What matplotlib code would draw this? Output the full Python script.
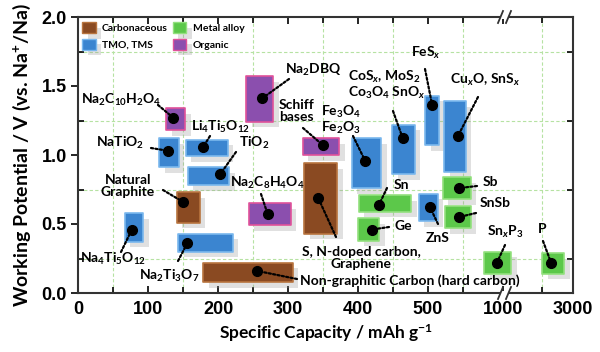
import numpy as np
import matplotlib
matplotlib.use("Agg")
import matplotlib.pyplot as plt
from matplotlib.patches import Patch, Rectangle
import matplotlib.patheffects as pe

plt.rcParams['font.family'] = ['Lato', 'DejaVu Sans']
plt.rcParams['font.weight'] = 'bold'
plt.rcParams['mathtext.fontset'] = 'custom'
plt.rcParams['mathtext.rm'] = 'Lato:bold'
plt.rcParams['mathtext.it'] = 'Lato:bold:italic'
plt.rcParams['mathtext.bf'] = 'Lato:bold'

# ---------------- data ----------------
# Carbonaceous
c_names = ['Natural\nGraphite', 'S, N-doped carbon,\nGraphene', 'Non-graphitic Carbon (hard carbon)']
c_cap_lo = [141, 323, 179]
c_cap_hi = [174, 370, 307]
c_v_lo = [0.51, 0.43, 0.08]
c_v_hi = [0.73, 0.94, 0.22]
c_cap = [150, 343, 256]
c_v = [0.66, 0.69, 0.16]

# TMO, TMS
t_names = [r'Na$_4$Ti$_5$O$_{12}$', r'NaTiO$_2$', r'Li$_4$Ti$_5$O$_{12}$', r'TiO$_2$',
           r'Na$_2$Ti$_3$O$_7$', 'Fe$_3$O$_4$\nFe$_2$O$_3$',
           'CoS$_x$, MoS$_2$\nCo$_3$O$_4$ SnO$_x$', r'FeS$_x$', r'Cu$_x$O, SnS$_x$', 'ZnS']
t_cap_lo = [67, 116, 154, 157, 143, 391, 449, 496, 523, 487]
t_cap_hi = [93, 144, 214, 216, 221, 433, 481, 516, 554, 514]
t_v_lo = [0.37, 0.91, 0.99, 0.78, 0.30, 0.76, 0.86, 1.07, 0.88, 0.52]
t_v_hi = [0.58, 1.12, 1.11, 0.91, 0.43, 1.12, 1.22, 1.43, 1.39, 0.72]
t_cap = [77, 129, 179, 203, 156, 410, 464, 506, 543, 503]
t_v = [0.46, 1.03, 1.06, 0.86, 0.36, 0.96, 1.12, 1.36, 1.14, 0.62]

# Organic
o_names = [r'Na$_2$C$_{10}$H$_2$O$_4$', r'Na$_2$DBQ', 'Schiff\nbases', r'Na$_2$C$_8$H$_4$O$_4$']
o_cap_lo = [126, 240, 321, 244]
o_cap_hi = [153, 279, 373, 304]
o_v_lo = [1.18, 1.24, 1.00, 0.49]
o_v_hi = [1.34, 1.57, 1.12, 0.65]
o_cap = [136, 263, 350, 271]
o_v = [1.27, 1.41, 1.07, 0.57]

# Metal alloy
a_names = ['Sn', 'Ge', 'Sb', 'SnSb', r'Sn$_x$P$_3$', 'P']
a_cap_lo = [401, 400, 521, 524, 580, 2000]
a_cap_hi = [476, 430, 561, 561, 1205, 2710]
a_v_lo = [0.59, 0.38, 0.68, 0.47, 0.14, 0.14]
a_v_hi = [0.71, 0.54, 0.84, 0.63, 0.30, 0.29]
a_cap = [430, 420, 544, 544, 867, 2290]
a_v = [0.64, 0.46, 0.76, 0.55, 0.22, 0.22]

x_major = [0, 100, 200, 300, 400, 500, 1000, 3000]
x_major_labels = ['0', '100', '200', '300', '400', '500', '1000', '3000']
x_minor = [50, 150, 250, 350, 450, 550, 2000]
y_major = [0.0, 0.5, 1.0, 1.5, 2.0]
y_major_labels = ['0.0', '0.5', '1.0', '1.5', '2.0']
y_minor = [0.25, 0.75, 1.25, 1.75]

# ---------------- broken x scale ----------------
cap_knots = np.array([0, 580, 1000, 2000, 3000], dtype=float)
pos_knots = np.array([0, 580, 607.1, 662.9, 707.1])

def fwd(x):
    return np.interp(x, cap_knots, pos_knots)

def inv(p):
    return np.interp(p, pos_knots, cap_knots)

fig = plt.figure(figsize=(6, 3.52), dpi=100)
AX_L, AX_R, AX_T, AX_B = 78, 573, 17, 293
ax = fig.add_axes([AX_L / 600, 1 - AX_B / 352, (AX_R - AX_L) / 600, (AX_B - AX_T) / 352])
ax.set_xscale('function', functions=(fwd, inv))
ax.set_xlim(0, 3000)
ax.set_ylim(0, 2.0)

def fx(px):
    return (px - AX_L) / (AX_R - AX_L)

def fy(py):
    return (AX_B - py) / (AX_B - AX_T)

shadow = [pe.SimplePatchShadow(offset=(4, -4), shadow_rgbFace='0.6', alpha=0.3), pe.Normal()]

styles = {
    'c': dict(fc='#8a4a22', ec='#b8743e'),
    't': dict(fc='#3b85d0', ec='#7ab8ee'),
    'o': dict(fc='#8b4fae', ec='#e0529a'),
    'a': dict(fc='#5cc84a', ec='#93e07e'),
}
groups = {
    'c': (c_cap_lo, c_cap_hi, c_v_lo, c_v_hi, c_cap, c_v),
    't': (t_cap_lo, t_cap_hi, t_v_lo, t_v_hi, t_cap, t_v),
    'o': (o_cap_lo, o_cap_hi, o_v_lo, o_v_hi, o_cap, o_v),
    'a': (a_cap_lo, a_cap_hi, a_v_lo, a_v_hi, a_cap, a_v),
}

for key, (xl, xh, yl, yh, xc, yc) in groups.items():
    xl = np.array(xl, float); xh = np.array(xh, float)
    yl = np.array(yl, float); yh = np.array(yh, float)
    bars = ax.bar(xl, yh - yl, width=xh - xl, bottom=yl, align='edge',
                  color=styles[key]['fc'], edgecolor=styles[key]['ec'], linewidth=1.2,
                  zorder=3)
    for b in bars:
        b.set_joinstyle('round')
        b.set_path_effects(shadow)
    ax.plot(xc, yc, 'o', color='black', ms=7, zorder=5)

# labels: (group, index, text center px, ha, leader end px)
labels = [
    ('c', 0, (128, 186), 'center', (163, 190)),
    ('c', 1, (361, 258), 'center', (336, 237)),
    ('c', 2, (300, 281), 'left', (297, 279)),
    ('t', 0, (113, 259), 'center', (121, 252)),
    ('t', 1, (120, 143), 'center', (151, 148)),
    ('t', 2, (221, 127), 'center', (210, 136)),
    ('t', 3, (254, 143), 'center', (236, 152)),
    ('t', 4, (169, 276), 'center', (178, 261)),
    ('t', 5, (321, 120), 'left', (353, 136)),
    ('t', 6, (348, 85), 'left', (393, 111)),
    ('t', 7, (426, 53), 'center', (425, 69)),
    ('t', 8, (485, 80), 'center', (478, 97)),
    ('t', 9, (438, 238), 'center', (438, 224)),
    ('o', 0, (121, 100), 'center', (158, 105)),
    ('o', 1, (313, 70), 'center', (289, 79)),
    ('o', 2, (279, 111), 'left', (303, 128)),
    ('o', 3, (267, 183), 'center', (261, 194)),
    ('a', 0, (401, 185), 'center', (387, 188)),
    ('a', 1, (403, 226), 'center', (389, 227)),
    ('a', 2, (490, 182), 'center', (477, 186)),
    ('a', 3, (495, 203), 'center', (476, 213)),
    ('a', 4, (505, 232), 'center', (505, 245)),
    ('a', 5, (542, 229), 'center', (543, 241)),
]
names = {'c': c_names, 't': t_names, 'o': o_names, 'a': a_names}

for key, i, (tx, ty), ha, (lx, ly) in labels:
    xc, yc = groups[key][4][i], groups[key][5][i]
    ax.annotate('', xy=(xc, yc), xycoords='data', xytext=(fx(lx), fy(ly)),
                textcoords='axes fraction',
                arrowprops=dict(arrowstyle='-', color='black', lw=1.6,
                                linestyle=(0, (1, 1)), shrinkA=0, shrinkB=0),
                zorder=4)
    ax.text(fx(tx), fy(ty), names[key][i], transform=ax.transAxes, ha=ha, va='center',
            fontsize=10, fontweight='bold', linespacing=1.05, zorder=6)

# axes styling
tick_font = {'family': ['Liberation Sans', 'DejaVu Sans'], 'weight': 'bold', 'size': 13}
ax.set_xticks(x_major)
ax.set_xticklabels(x_major_labels, fontdict=tick_font)
ax.set_xticks(x_minor, minor=True)
ax.set_yticks(y_major)
ax.set_yticklabels(y_major_labels, fontdict=tick_font)
ax.set_yticks(y_minor, minor=True)
ax.tick_params(axis='x', which='both', direction='in', top=True, width=1.2, pad=6)
ax.tick_params(axis='x', which='major', length=5)
ax.tick_params(axis='x', which='minor', length=4)
ax.tick_params(axis='y', which='major', direction='out', length=5, width=1.2, pad=3)
ax.tick_params(axis='y', which='minor', direction='in', right=True, length=4, width=1.2)
ax.grid(which='minor', color='#b6e2a2', linestyle=(0, (3, 2)), linewidth=0.8, zorder=0)
ax.set_axisbelow(True)
for s in ax.spines.values():
    s.set_linewidth(1.5)
    s.set_color('#333333')

ax.set_xlabel(r'Specific Capacity / mAh g$^{-1}$', fontsize=12.5, fontweight='bold', labelpad=3)
ax.set_ylabel(r'Working Potential / V (vs. Na$^{+}$/Na)', fontsize=14, fontweight='bold', labelpad=6)

# break marks on the top and bottom spines
for yb in (AX_T, AX_B):
    ax.add_patch(Rectangle((fx(500), fy(yb + 2)), fx(508) - fx(500), fy(yb - 2) - fy(yb + 2),
                           transform=ax.transAxes, facecolor='white', edgecolor='none',
                           clip_on=False, zorder=10))
    for x0 in (498, 506):
        ax.plot([fx(x0), fx(x0 + 5)], [fy(yb + 6), fy(yb - 6)], transform=ax.transAxes,
                color='#333333', lw=1.3, clip_on=False, zorder=11)

# legend
handles = [
    Patch(facecolor=styles['c']['fc'], edgecolor=styles['c']['ec'], label='Carbonaceous', path_effects=shadow),
    Patch(facecolor=styles['t']['fc'], edgecolor=styles['t']['ec'], label='TMO, TMS', path_effects=shadow),
    Patch(facecolor=styles['a']['fc'], edgecolor=styles['a']['ec'], label='Metal alloy', path_effects=shadow),
    Patch(facecolor=styles['o']['fc'], edgecolor=styles['o']['ec'], label='Organic', path_effects=shadow),
]
leg = ax.legend(handles=handles, ncol=2, loc='upper left', bbox_to_anchor=(fx(82), fy(22)),
                frameon=False, handlelength=1.3, handleheight=1.3,
                handletextpad=0.6, columnspacing=0.5, labelspacing=0.5, borderaxespad=0,
                borderpad=0, prop={'weight': 'bold', 'size': 7.5})

fig.savefig('out.png', dpi=100)
